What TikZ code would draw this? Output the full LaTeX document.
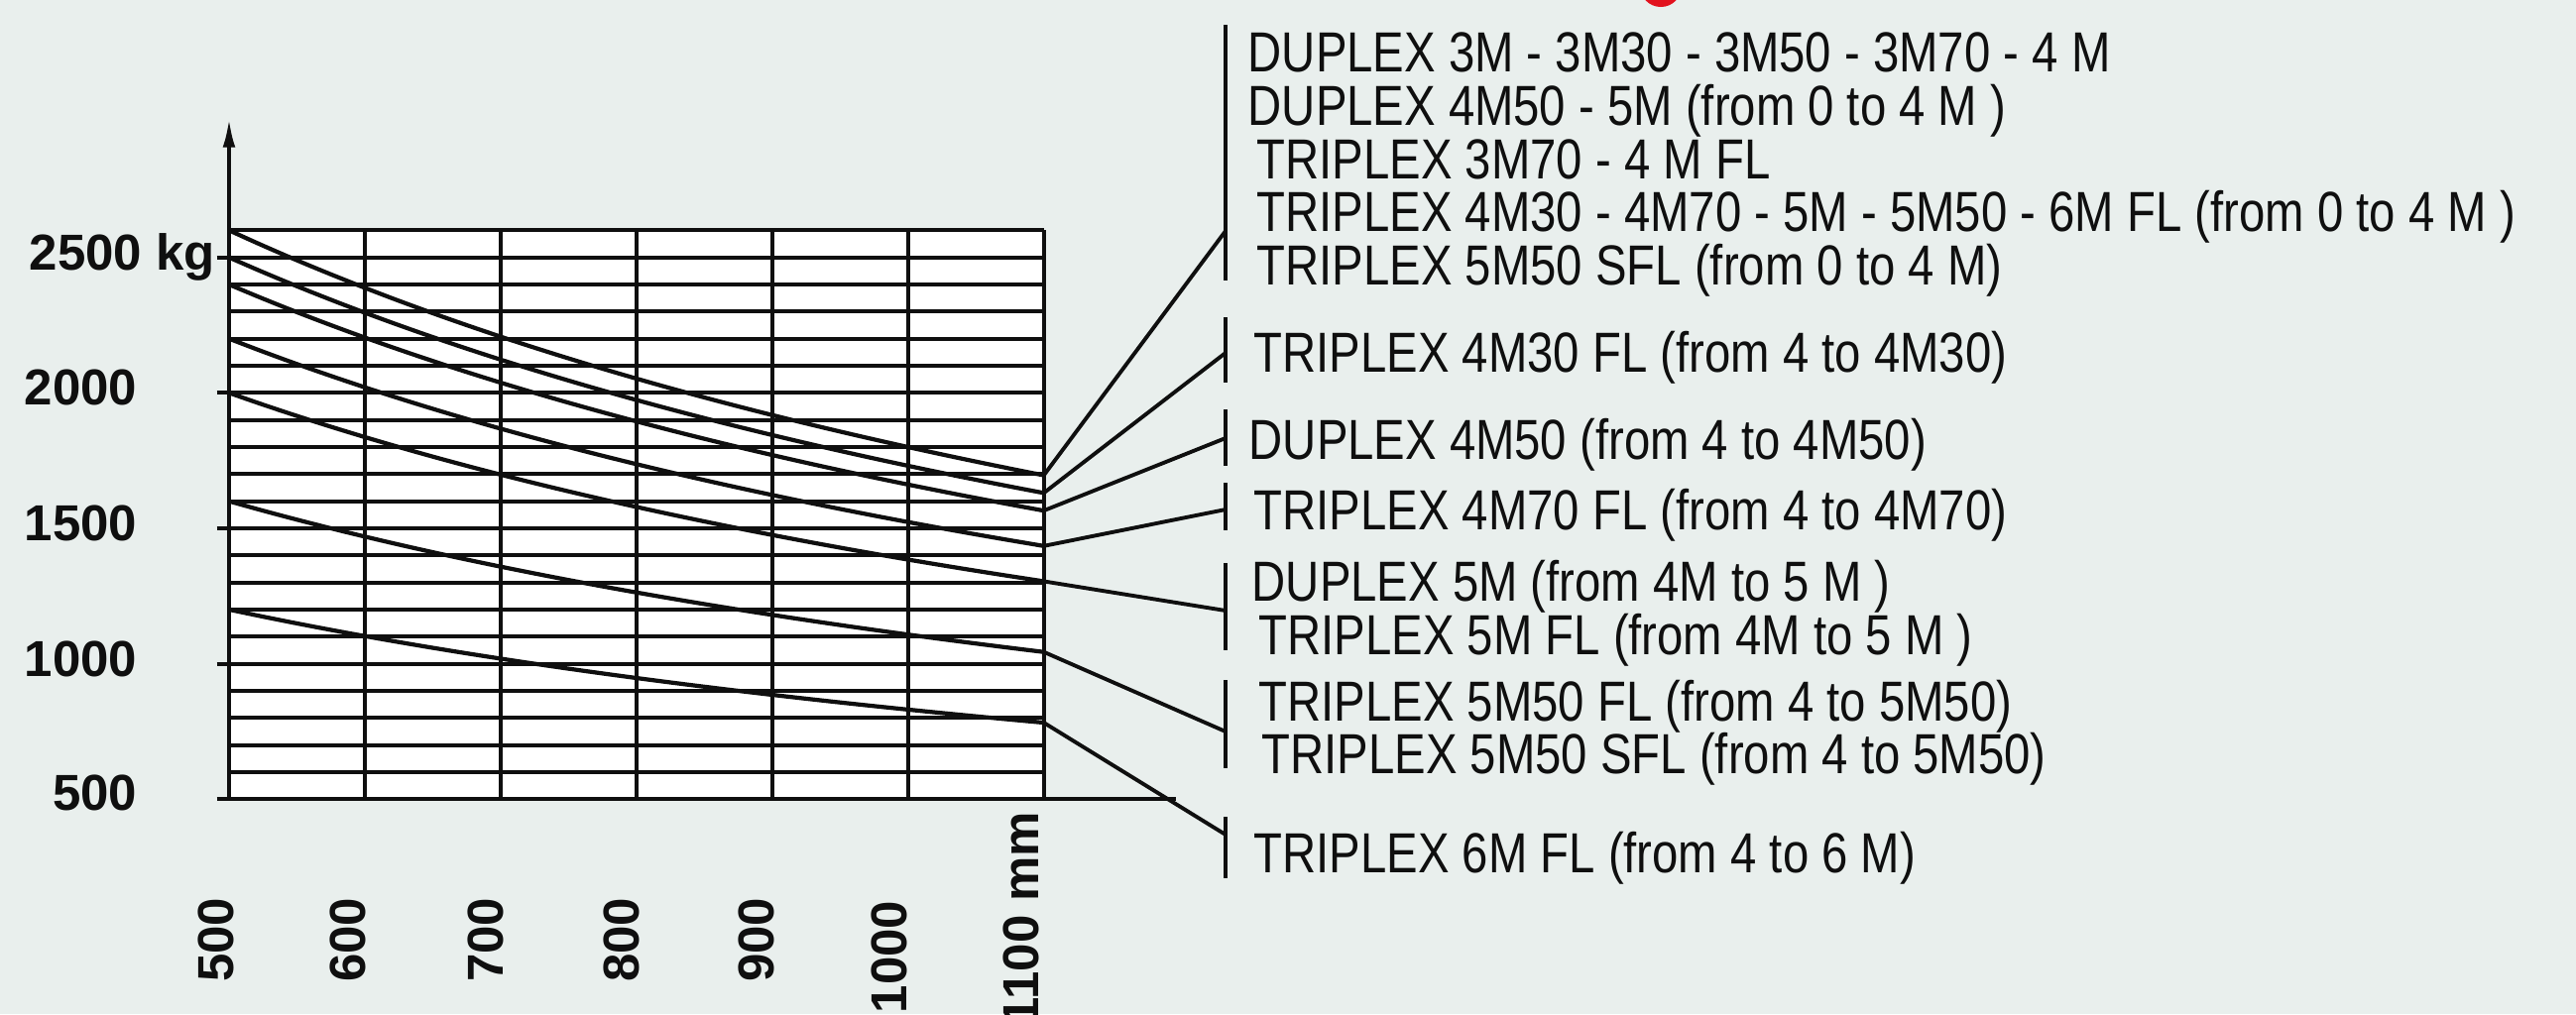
\documentclass[tikz,border=0pt]{standalone}
\usepackage{fontspec}
\setmainfont{Liberation Sans}
\newfontfamily\legendfont{Liberation Sans}[FakeStretch=0.83]
\usetikzlibrary{arrows.meta}
\definecolor{paper}{RGB}{233,239,237}
\definecolor{ink}{RGB}{15,15,15}
\definecolor{blob}{RGB}{226,18,30}
\begin{document}
\begin{tikzpicture}[x=0.01cm, y=-0.01cm,
    rule/.style={ink, line width=1.15pt},
    curve/.style={ink, line width=1.2pt},
    lead/.style={ink, line width=1.1pt},
    bar/.style={ink, line width=1.2pt},
    legend/.style={anchor=base west, inner sep=0pt, text=ink,
      font=\legendfont\fontsize{16.2}{18}\selectfont},
    ylab/.style={inner sep=0pt, text=ink, font=\fontsize{14.5}{16}\selectfont\bfseries},
    xlab/.style={ylab, rotate=90, anchor=base east}]
  \path[use as bounding box, fill=paper] (0,0) rectangle (2598,1023);
  \fill[blob] (1675,-14) circle[radius=21];

  \begin{scope}[shift={(-4.535cm,-9.4235cm)}, x=0.01369cm, y=0.002727cm]
    \fill[white] (500,500) rectangle (1100,2600);
    \foreach \k in {600,700,...,2600} \draw[rule] (500,\k) -- (1100,\k);
    \foreach \m in {600,700,...,1100} \draw[rule] (\m,500) -- (\m,2600);
    \foreach \k in {1000,1500,2000,2500} \draw[rule] (491,\k) -- (500,\k);
    \coordinate (o) at (500,500);
    \coordinate (ytip) at (500,3016);
    \coordinate (xstart) at (491,500);
    \coordinate (xend) at (1197.6,500);
    \draw[rule] (xstart) -- (xend);
    \draw[rule, -{Latex[length=8.5pt, width=3.6pt]}] (o) -- (ytip);
    \draw[curve] plot[domain=500:1100, samples=31, smooth] (\x,{2600*(1125/(625+\x))});
    \draw[curve] plot[domain=500:1100, samples=31, smooth] (\x,{2500*(1125/(625+\x))});
    \draw[curve] plot[domain=500:1100, samples=31, smooth] (\x,{2400*(1125/(625+\x))});
    \draw[curve] plot[domain=500:1100, samples=31, smooth] (\x,{2200*(1125/(625+\x))});
    \draw[curve] plot[domain=500:1100, samples=31, smooth] (\x,{2000*(1125/(625+\x))});
    \draw[curve] plot[domain=500:1100, samples=31, smooth] (\x,{1600*(1125/(625+\x))});
    \draw[curve] plot[domain=500:1100, samples=31, smooth] (\x,{1200*(1125/(625+\x))});
    \coordinate (e1) at (1100,1695.6);
    \coordinate (e2) at (1100,1630.4);
    \coordinate (e3) at (1100,1565.2);
    \coordinate (e4) at (1100,1434.8);
    \coordinate (e5) at (1100,1304.3);
    \coordinate (e6) at (1100,1043.5);
    \coordinate (e7) at (1100,782.6);
  \end{scope}

  \node[ylab, anchor=base west] (kg2500) at (29,272) {2500 kg};
  \node[ylab, anchor=base east] (kg2000) at (139,408) {2000};
  \node[ylab, anchor=base east] (kg1500) at (139,545) {1500};
  \node[ylab, anchor=base east] (kg1000) at (139,682) {1000};
  \node[ylab, anchor=base east] (kg500) at (139,817) {500};

  \node[xlab] (mm500) at (235,905) {500};
  \node[xlab] (mm600) at (368,905) {600};
  \node[xlab] (mm700) at (507,905) {700};
  \node[xlab] (mm800) at (644,905) {800};
  \node[xlab] (mm900) at (780,905) {900};
  \node[xlab] (mm1000) at (914,908) {1000};
  \node[xlab] (mm1100) at (1047,818) {1100 mm};

  \node[legend] (d3m) at (1258,72) {DUPLEX 3M - 3M30 - 3M50 - 3M70 - 4 M};
  \node[legend] (d4m50a) at (1258,126) {DUPLEX 4M50 - 5M (from 0 to 4 M )};
  \node[legend] (t3m70) at (1267,180) {TRIPLEX 3M70 - 4 M FL};
  \node[legend] (t4m30a) at (1267,233) {TRIPLEX 4M30 - 4M70 - 5M - 5M50 - 6M FL (from 0 to 4 M )};
  \node[legend] (t5m50a) at (1267,287) {TRIPLEX 5M50 SFL (from 0 to 4 M)};
  \node[legend] (t4m30fl) at (1264,375) {TRIPLEX 4M30 FL (from 4 to 4M30)};
  \node[legend] (d4m50) at (1259,463) {DUPLEX 4M50 (from 4 to 4M50)};
  \node[legend] (t4m70fl) at (1264,534) {TRIPLEX 4M70 FL (from 4 to 4M70)};
  \node[legend] (d5m) at (1262,606) {DUPLEX 5M (from 4M to 5 M )};
  \node[legend] (t5mfl) at (1269,660) {TRIPLEX 5M FL (from 4M to 5 M )};
  \node[legend] (t5m50fl) at (1269,727) {TRIPLEX 5M50 FL (from 4 to 5M50)};
  \node[legend] (t5m50sfl) at (1272,780) {TRIPLEX 5M50 SFL (from 4 to 5M50)};
  \node[legend] (t6mfl) at (1264,880) {TRIPLEX 6M FL (from 4 to 6 M)};

  \coordinate (b1t) at (1236,25);  \coordinate (b1b) at (1236,283);
  \coordinate (b2t) at (1236,320); \coordinate (b2b) at (1236,386);
  \coordinate (b3t) at (1236,413); \coordinate (b3b) at (1236,470);
  \coordinate (b4t) at (1236,487); \coordinate (b4b) at (1236,535);
  \coordinate (b5t) at (1236,568); \coordinate (b5b) at (1236,656);
  \coordinate (b6t) at (1236,686); \coordinate (b6b) at (1236,775);
  \coordinate (b7t) at (1236,824); \coordinate (b7b) at (1236,886);
  \coordinate (a1) at (1236,233);
  \coordinate (a2) at (1236,356);
  \coordinate (a3) at (1236,442);
  \coordinate (a4) at (1236,514);
  \coordinate (a5) at (1236,616);
  \coordinate (a6) at (1236,738);
  \coordinate (a7) at (1236,842);
  \begin{scope}[bar]
    \draw (b1t) -- (b1b);
    \draw (b2t) -- (b2b);
    \draw (b3t) -- (b3b);
    \draw (b4t) -- (b4b);
    \draw (b5t) -- (b5b);
    \draw (b6t) -- (b6b);
    \draw (b7t) -- (b7b);
  \end{scope}
  \begin{scope}[lead]
    \draw (e1) to (a1);
    \draw (e2) to (a2);
    \draw (e3) to (a3);
    \draw (e4) to (a4);
    \draw (e5) to (a5);
    \draw (e6) to (a6);
    \draw (e7) to (a7);
  \end{scope}
\end{tikzpicture}
\end{document}
